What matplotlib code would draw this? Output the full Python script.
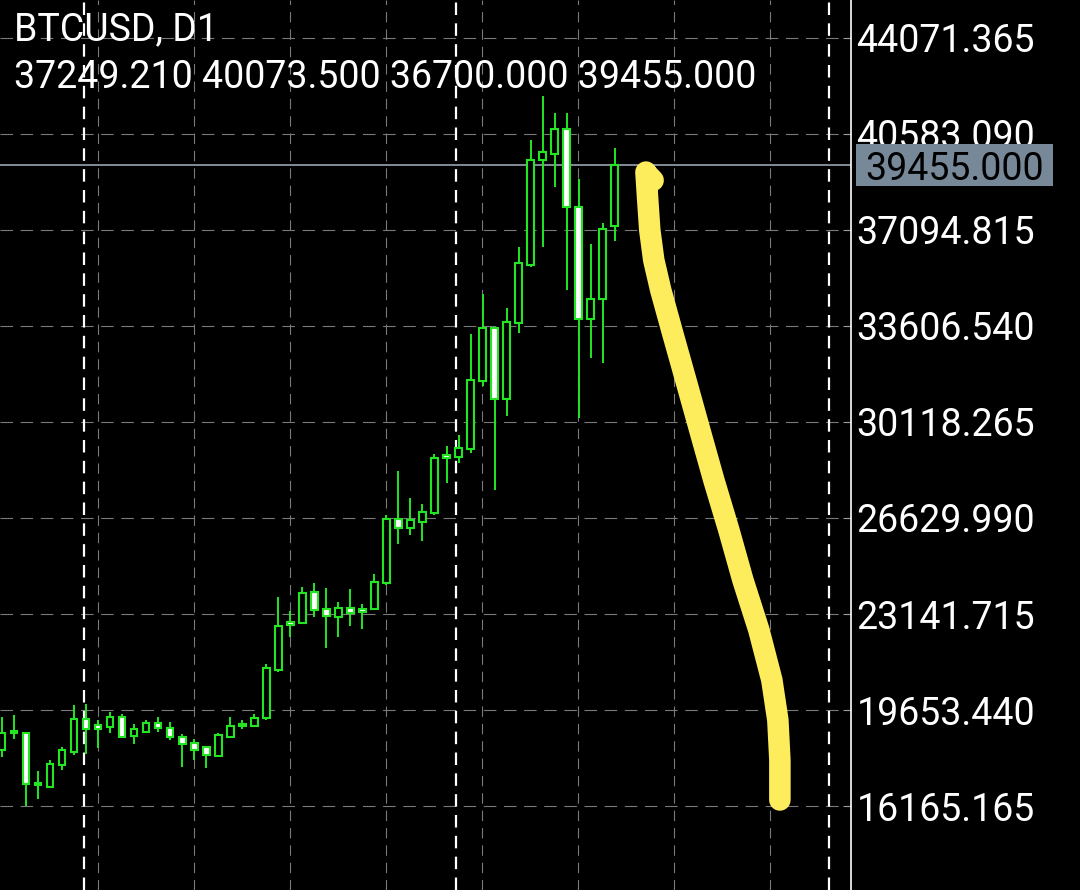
import matplotlib
matplotlib.use('Agg')
import matplotlib.pyplot as plt
from matplotlib.patches import Rectangle
from matplotlib.transforms import blended_transform_factory

plt.rcParams['font.family'] = ['Roboto', 'DejaVu Sans']
plt.rcParams['lines.scale_dashes'] = False

symbol = 'BTCUSD, D1'
last_ohlc = [37249.210, 40073.500, 36700.000, 39455.000]
bid = 39455.000

# daily candles, oldest first
opens = [18200, 18891, 18818, 16930, 16855, 17655, 18128, 19327, 19109, 19036,
         19399, 18709, 18855, 19181, 19000, 18673, 18455, 18309, 17982, 18673,
         19073, 19073, 19363, 21107, 22851, 22814, 23941, 23323, 23032, 23359,
         23323, 23323, 24268, 26594, 26267, 26485, 26812, 28919, 28846, 29138,
         31608, 33534, 30954, 33716, 35823, 39639, 39857, 40765, 37931, 33861,
         34588, 37249.21]
highs = [19399, 19472, 18855, 17440, 17837, 18309, 19835, 19872, 19290, 19581,
         19508, 19145, 19290, 19399, 19218, 18782, 18600, 18346, 18818, 19399,
         19290, 19508, 21324, 23759, 23250, 24122, 24268, 24086, 23577, 24050,
         23505, 24595, 26739, 28338, 27357, 27139, 28955, 29246, 29646, 33316,
         34769, 33570, 34260, 36477, 40366, 41963, 41346, 41346, 38948, 36586,
         37349, 40073.5]
lows = [17946, 18600, 16165, 16420, 16819, 17473, 18019, 18055, 18273, 18818,
        18636, 18418, 18818, 18855, 18564, 17582, 17837, 17546, 17946, 18673,
        18964, 19036, 19290, 21034, 22306, 22778, 23032, 21906, 22306, 22705,
        22596, 23287, 24195, 25685, 26012, 25794, 26739, 27902, 28628, 28992,
        31427, 27647, 30337, 33352, 35750, 36477, 38657, 34915, 30264, 32443,
        32262, 36700]
closes = [18818, 18818, 16964, 16990, 17692, 18200, 19327, 18964, 18964, 19399,
          18673, 18964, 19181, 19000, 18673, 18418, 18200, 18019, 18745, 19073,
          19145, 19363, 21179, 22705, 22742, 23904, 23287, 23069, 23359, 23178,
          23214, 24304, 26594, 26267, 26557, 26848, 28810, 28810, 29173, 31645,
          33534, 30954, 33752, 35896, 39639, 39930, 40765, 37931, 33861, 34588,
          37131, 39455]

# bar index of the first day of each month (period separators)
month_starts = [7, 38, 69]

price_ticks = [16165.165, 19653.440, 23141.715, 26629.990, 30118.265,
               33606.540, 37094.815, 40583.090, 44071.365]

# hand-drawn yellow stroke (bar index, price)
sketch_x = [54.2, 53.65, 53.6, 53.75, 53.92, 54.25, 54.83, 55.75, 56.92, 58.08,
            59.25, 60.5, 61.67, 63.0, 64.08, 64.58, 64.75, 64.75]
sketch_y = [38900, 39150, 39200, 38185, 37095, 36005, 34915, 33461, 31644, 29828,
            28011, 26194, 24377, 22560, 20743, 19290, 17837, 16383]

green = '#22e622'

fig = plt.figure(figsize=(10.8, 8.9), dpi=100, facecolor='black')
ax = fig.add_axes([0, 0, 851 / 1080, 1])
ax.set_facecolor('black')

x = list(range(len(opens)))

# grid
for v in price_ticks:
    ax.axhline(v, color='#7a7a7a', lw=0.8, ls=(0, (9, 5.5)), zorder=1)
for i in range(8, 70, 8):
    ax.axvline(i - 0.05, color='#7a7a7a', lw=0.8, ls=(0, (7.5, 5)), zorder=1)
for i in month_starts:
    ax.axvline(i - 0.2, color='white', lw=1.6, ls=(0, (9, 6)), zorder=1)

# bid line
ax.axhline(bid, color='#9aa3b2', lw=1.2, zorder=2)

# candles
ax.vlines(x, lows, highs, color=green, lw=1.4, zorder=3)
for i in x:
    o, c = opens[i], closes[i]
    face = 'black' if c >= o else 'white'
    ax.bar(i, max(abs(c - o), 1), bottom=min(o, c), width=0.55,
           facecolor=face, edgecolor=green, linewidth=1.5, zorder=4)

# yellow sketch
ax.plot(sketch_x, sketch_y, color='#fdec5c', lw=15.5, solid_capstyle='round',
        solid_joinstyle='round', zorder=6)

ax.set_xlim(-0.167, 70.67)
ax.set_ylim(13113, 45452)

ax.xaxis.set_visible(False)
ax.yaxis.tick_right()
ax.set_yticks(price_ticks)
ax.set_yticklabels([f'{v:.3f}' for v in price_ticks])
ax.tick_params(axis='y', direction='in', length=6, width=0.8, color='#9a9a9a',
               labelcolor='white', labelsize=27, pad=4)
for s in ['top', 'bottom', 'left']:
    ax.spines[s].set_visible(False)
ax.spines['right'].set_color('white')
ax.spines['right'].set_linewidth(1.2)

# current price label
tr = blended_transform_factory(fig.transFigure, ax.transData)
ax.add_patch(Rectangle((856 / 1080, bid - 770), 197 / 1080, 1540, transform=tr,
                       facecolor='#778899', edgecolor='none', clip_on=False, zorder=10))
ax.text(865 / 1080, bid, f'{bid:.3f}', transform=tr, color='black', fontsize=27,
        va='center_baseline', ha='left', zorder=11, clip_on=False)

fig.text(14 / 1080, 1 - 40 / 890, symbol, color='white', fontsize=27, va='baseline')
fig.text(14 / 1080, 1 - 88 / 890, ' '.join(f'{v:.3f}' for v in last_ohlc),
         color='white', fontsize=27, va='baseline')

fig.savefig('out.png', dpi=100, facecolor='black')
